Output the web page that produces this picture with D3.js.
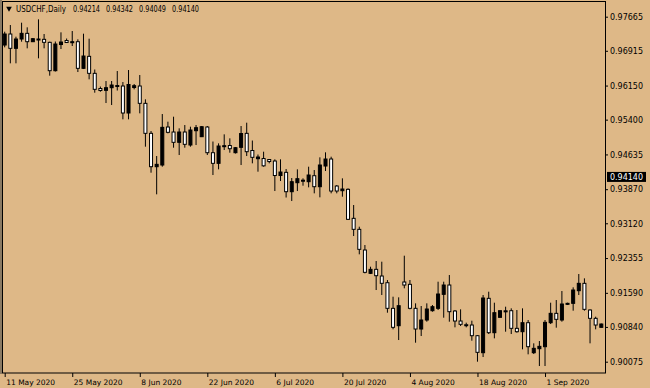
<!DOCTYPE html>
<html>
<head>
<meta charset="utf-8">
<script src="https://cdn.jsdelivr.net/npm/d3@7"></script>
<style>
body { margin: 0; background: #DEB887; }
svg { display: block; font-family: "DejaVu Sans", sans-serif; }
</style>
</head>
<body>
<div id="chart"></div>
<script>
// USDCHF daily bars
var opens = [
  0.97042, 0.97284, 0.96969, 0.97174, 0.97299, 0.97115, 0.97174, 0.97167, 0.97101, 0.96477,
  0.97053, 0.97141, 0.97101, 0.97115, 0.96529, 0.96793, 0.96419, 0.96085, 0.96045, 0.96103,
  0.96151, 0.96140, 0.95546, 0.96107, 0.96140, 0.95759, 0.95099, 0.94365, 0.94402, 0.95238,
  0.95128, 0.94901, 0.95128, 0.94842, 0.95157, 0.95025, 0.95238, 0.94673, 0.94439, 0.94813,
  0.94831, 0.94673, 0.94791, 0.95099, 0.94721, 0.94541, 0.94545, 0.94523, 0.94490, 0.94171,
  0.94241, 0.93815, 0.94013, 0.94054, 0.94035, 0.94167, 0.93925, 0.94380, 0.94534, 0.93940,
  0.93837, 0.93867, 0.93229, 0.92987, 0.92532, 0.92019, 0.92107, 0.91960, 0.91813, 0.91249,
  0.90867, 0.91828, 0.91777, 0.91249, 0.90794, 0.90992, 0.91197, 0.91249, 0.91557, 0.91762,
  0.91190, 0.90970, 0.90889, 0.90882, 0.90647, 0.90273, 0.91469, 0.90713, 0.91051, 0.91186,
  0.91197, 0.90809, 0.90735, 0.90933, 0.90273, 0.90361, 0.90405, 0.90933, 0.91139, 0.90992,
  0.91337, 0.91359, 0.91637, 0.91799, 0.91212, 0.91029, 0.90831
];
var highs = [
  0.97335, 0.97482, 0.97225, 0.97533, 0.97431, 0.97196, 0.97607, 0.97284, 0.97115, 0.97119,
  0.97321, 0.97185, 0.97350, 0.97167, 0.97291, 0.97181, 0.96503, 0.96129, 0.96250, 0.96250,
  0.96470, 0.96228, 0.96492, 0.96184, 0.96382, 0.95847, 0.95150, 0.94600, 0.95524, 0.95355,
  0.95465, 0.95209, 0.95282, 0.95245, 0.95282, 0.95260, 0.95260, 0.94919, 0.94879, 0.95077,
  0.94989, 0.94798, 0.95260, 0.95333, 0.94941, 0.94633, 0.94695, 0.94527, 0.94527, 0.94527,
  0.94314, 0.94116, 0.94307, 0.94109, 0.94365, 0.94292, 0.94571, 0.94681, 0.94585, 0.93962,
  0.94109, 0.93889, 0.93522, 0.93045, 0.92642, 0.92165, 0.92290, 0.92275, 0.91872, 0.91505,
  0.91491, 0.92407, 0.91872, 0.91359, 0.91300, 0.91359, 0.91322, 0.91835, 0.91835, 0.91982,
  0.91212, 0.91227, 0.90933, 0.90977, 0.90662, 0.91542, 0.91615, 0.91373, 0.91201, 0.91285,
  0.91249, 0.91212, 0.91249, 0.90992, 0.90479, 0.90530, 0.90992, 0.91373, 0.91432, 0.91630,
  0.91373, 0.91711, 0.92004, 0.91909, 0.91227, 0.91065, 0.90915
];
var lows = [
  0.96991, 0.96639, 0.96639, 0.97115, 0.96969, 0.97108, 0.96749, 0.96969, 0.96367, 0.96459,
  0.96954, 0.97086, 0.97020, 0.96448, 0.96514, 0.96287, 0.95993, 0.96015, 0.95766, 0.95722,
  0.96041, 0.95407, 0.95407, 0.96067, 0.95539, 0.94805, 0.94233, 0.93757, 0.94365, 0.95099,
  0.94783, 0.94622, 0.94783, 0.94805, 0.94842, 0.95018, 0.94622, 0.94182, 0.94307, 0.94732,
  0.94673, 0.94655, 0.94402, 0.94600, 0.94439, 0.94255, 0.94365, 0.94439, 0.93830, 0.94050,
  0.93687, 0.93610, 0.93830, 0.93947, 0.93911, 0.93779, 0.93691, 0.94270, 0.93779, 0.93779,
  0.93705, 0.93192, 0.92840, 0.92437, 0.92019, 0.92004, 0.91652, 0.91542, 0.91153, 0.90787,
  0.90552, 0.91689, 0.91227, 0.90493, 0.90640, 0.90955, 0.91175, 0.91212, 0.91043, 0.90955,
  0.90831, 0.90860, 0.90831, 0.90537, 0.90075, 0.90178, 0.90684, 0.90589, 0.91047, 0.90735,
  0.90684, 0.90713, 0.90347, 0.90237, 0.90244, 0.89980, 0.89980, 0.90904, 0.90823, 0.90955,
  0.91322, 0.91197, 0.91542, 0.91197, 0.90479, 0.90787, 0.90827
];
var closes = [
  0.97284, 0.96969, 0.97174, 0.97299, 0.97115, 0.97181, 0.97167, 0.97101, 0.96477, 0.97064,
  0.97108, 0.97097, 0.97115, 0.96529, 0.96800, 0.96419, 0.96067, 0.96041, 0.96103, 0.96162,
  0.96140, 0.95546, 0.96173, 0.96147, 0.95759, 0.95099, 0.94365, 0.94417, 0.95231, 0.95121,
  0.94901, 0.95128, 0.94857, 0.95172, 0.95223, 0.95245, 0.94673, 0.94439, 0.94820, 0.94827,
  0.94761, 0.94783, 0.95095, 0.94695, 0.94571, 0.94578, 0.94384, 0.94479, 0.94171, 0.94248,
  0.93815, 0.94035, 0.94101, 0.94068, 0.94182, 0.93925, 0.94402, 0.94534, 0.93830, 0.93830,
  0.93874, 0.93207, 0.92987, 0.92547, 0.92041, 0.92107, 0.91967, 0.91799, 0.91249, 0.90831,
  0.91307, 0.91762, 0.91249, 0.90794, 0.90992, 0.91234, 0.91285, 0.91564, 0.91762, 0.91175,
  0.90970, 0.90897, 0.90875, 0.90647, 0.90281, 0.91476, 0.90713, 0.91153, 0.91197, 0.91194,
  0.90809, 0.90735, 0.90933, 0.90405, 0.90369, 0.90413, 0.90941, 0.91139, 0.91007, 0.91344,
  0.91359, 0.91652, 0.91799, 0.91227, 0.91029, 0.90882, 0.90904
];

var priceTicks = [0.97665, 0.96915, 0.96150, 0.95400, 0.94635, 0.93870, 0.93120, 0.92355, 0.91590, 0.90840, 0.90075];
var dateLabels = ["11 May 2020", "25 May 2020", "8 Jun 2020", "22 Jun 2020", "6 Jul 2020",
                  "20 Jul 2020", "4 Aug 2020", "18 Aug 2020", "1 Sep 2020"];
var dateBars = [0, 12, 24, 36, 48, 60, 72, 84, 96];
var lastPrice = 0.94140;
var symbolName = "USDCHF,Daily";
var headerOHLC = [0.94214, 0.94342, 0.94049, 0.94140];

var width = 650, height = 388;
var plotRight = 605, plotBottom = 373;
var fmt = d3.format(".5f");

var svg = d3.select('#chart')
  .append('svg')
    .attr('width', width)
    .attr('height', height);

var x = d3.scaleLinear()
  .domain([0, closes.length - 1])
  .range([4.7, 601.3]);

var y = d3.scaleLinear()
  .domain([0.90075, 0.97665])
  .range([361.7, 16.7]);

var bars = closes.map(function(c, i) {
  return {i: i, o: opens[i], h: highs[i], l: lows[i], c: c};
});

// frame
svg.append("rect")
  .attr("x", 2.5).attr("y", 1.5)
  .attr("width", plotRight - 2.5 + 0.5).attr("height", plotBottom - 1.5)
  .attr("fill", "none")
  .attr("stroke", "#000");
svg.append("line")
  .attr("x1", 1).attr("x2", 1).attr("y1", 0).attr("y2", plotBottom + 1)
  .attr("stroke", "#8a7a63").attr("stroke-width", 2);

// wicks
svg.selectAll("line.wick")
  .data(bars)
  .enter()
  .append("line")
    .attr("class", "wick")
    .attr("x1", function(d) { return x(d.i); })
    .attr("x2", function(d) { return x(d.i); })
    .attr("y1", function(d) { return y(d.h); })
    .attr("y2", function(d) { return y(d.l); })
    .attr("stroke", "#000");

// bodies: rising bar black, falling bar white
svg.selectAll("rect.body")
  .data(bars)
  .enter()
  .append("rect")
    .attr("class", "body")
    .attr("x", function(d) { return x(d.i) - 1.5; })
    .attr("y", function(d) { return y(Math.max(d.o, d.c)); })
    .attr("width", 3)
    .attr("height", function(d) { return Math.max(1, Math.abs(y(d.o) - y(d.c))); })
    .attr("fill", function(d) { return d.c > d.o ? "#000" : "#fff"; })
    .attr("stroke", "#000");

// price axis
var yAxis = svg.append("g")
  .attr("transform", "translate(" + plotRight + ",0)")
  .call(d3.axisRight(y).tickValues(priceTicks).tickSize(3).tickPadding(2).tickFormat(fmt));
yAxis.select(".domain").remove();
yAxis.selectAll("text")
  .attr("font-size", 8.5)
  .attr("font-family", "DejaVu Sans")
  .attr("textLength", 33)
  .attr("lengthAdjust", "spacingAndGlyphs")
  .attr("fill", "#000");

// last price tag
svg.append("rect")
  .attr("x", 607).attr("y", y(lastPrice) - 5)
  .attr("width", 39).attr("height", 10)
  .attr("fill", "#000");
svg.append("text")
  .attr("x", 610).attr("y", y(lastPrice) + 3)
  .attr("font-size", 8.5)
  .attr("textLength", 33)
  .attr("lengthAdjust", "spacingAndGlyphs")
  .attr("fill", "#fff")
  .text(fmt(lastPrice));

// time axis
var xAxis = svg.append("g")
  .attr("transform", "translate(0," + plotBottom + ")")
  .call(d3.axisBottom(x).tickValues(dateBars).tickSize(4)
    .tickFormat(function(d, i) { return dateLabels[i]; }));
xAxis.select(".domain").remove();
xAxis.selectAll("text")
  .attr("text-anchor", "start")
  .attr("x", 1)
  .attr("y", 12)
  .attr("dy", null)
  .attr("font-size", 7.5)
  .attr("font-family", "DejaVu Sans")
  .attr("fill", "#000");

// header
svg.append("path")
  .attr("d", d3.symbol(d3.symbolTriangle, 14)())
  .attr("transform", "translate(9,8.5) rotate(180)")
  .attr("fill", "#000");
svg.append("text")
  .attr("x", 16).attr("y", 12)
  .attr("font-size", 8.5)
  .attr("textLength", 50)
  .attr("lengthAdjust", "spacingAndGlyphs")
  .text(symbolName);
svg.selectAll("text.ohlc")
  .data(headerOHLC)
  .enter()
  .append("text")
    .attr("class", "ohlc")
    .attr("x", function(d, i) { return 73 + i * 33; })
    .attr("y", 12)
    .attr("font-size", 8.5)
    .attr("textLength", 27)
    .attr("lengthAdjust", "spacingAndGlyphs")
    .text(function(d) { return fmt(d); });
</script>
</body>
</html>
